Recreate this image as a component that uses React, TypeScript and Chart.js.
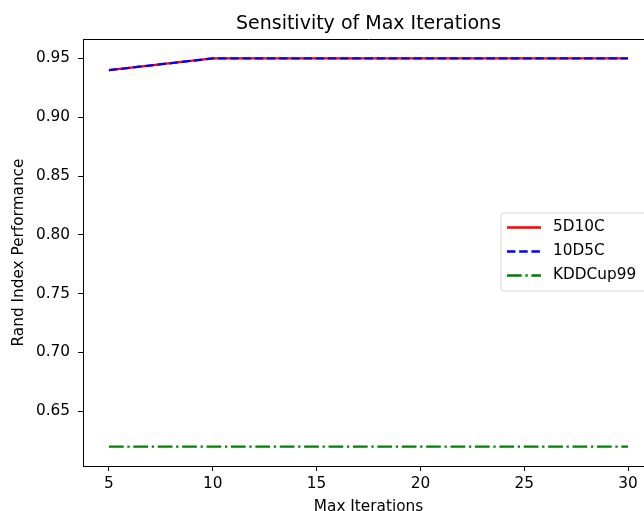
import React, { useEffect, useRef } from "react";
import { Chart, registerables } from "chart.js";

Chart.register(...registerables);

const iterations = [5, 10, 15, 20, 25, 30];
const series5D10C = [0.94, 0.95, 0.95, 0.95, 0.95, 0.95];
const series10D5C = [0.94, 0.95, 0.95, 0.95, 0.95, 0.95];
const seriesKDDCup99 = [0.62, 0.62, 0.62, 0.62, 0.62, 0.62];
const xTicks = [5, 10, 15, 20, 25, 30];
const yTicks = [0.65, 0.7, 0.75, 0.8, 0.85, 0.9, 0.95];

const FONT = "'DejaVu Sans', sans-serif";
const TICK_PX = 15.3;
const TITLE_PX = 19;
const LW = 2.3;

const toPoints = (ys: number[]) => iterations.map((x, i) => ({ x, y: ys[i] }));

const framePlugin = {
  id: "frameTitleLegend",
  afterDraw(chart: any) {
    const { ctx, chartArea } = chart;
    const { left, right, top, bottom } = chartArea;
    ctx.save();
    // top and right spines
    ctx.strokeStyle = "#000";
    ctx.lineWidth = 1;
    ctx.beginPath();
    ctx.moveTo(left, top + 0.5);
    ctx.lineTo(right, top + 0.5);
    ctx.moveTo(right - 0.5, top);
    ctx.lineTo(right - 0.5, bottom);
    ctx.stroke();

    // title
    ctx.fillStyle = "#000";
    ctx.font = `${TITLE_PX}px ${FONT}`;
    ctx.textAlign = "center";
    ctx.textBaseline = "alphabetic";
    ctx.fillText("Sensitivity of Max Iterations", (left + right) / 2, 29);

    // legend
    const boxL = right - 153;
    const boxR = right - 8;
    const boxT = top + 174;
    const boxB = top + 252;
    const r = 3;
    ctx.beginPath();
    ctx.moveTo(boxL + r, boxT);
    ctx.lineTo(boxR - r, boxT);
    ctx.arcTo(boxR, boxT, boxR, boxT + r, r);
    ctx.lineTo(boxR, boxB - r);
    ctx.arcTo(boxR, boxB, boxR - r, boxB, r);
    ctx.lineTo(boxL + r, boxB);
    ctx.arcTo(boxL, boxB, boxL, boxB - r, r);
    ctx.lineTo(boxL, boxT + r);
    ctx.arcTo(boxL, boxT, boxL + r, boxT, r);
    ctx.closePath();
    ctx.fillStyle = "rgba(255,255,255,0.8)";
    ctx.fill();
    ctx.strokeStyle = "rgba(204,204,204,0.8)";
    ctx.lineWidth = 1;
    ctx.stroke();

    const datasets = chart.data.datasets;
    datasets.forEach((ds: any, i: number) => {
      const y = boxT + 14.5 + i * 24;
      ctx.beginPath();
      ctx.strokeStyle = ds.borderColor;
      ctx.lineWidth = ds.borderWidth;
      ctx.setLineDash(ds.borderDash || []);
      ctx.moveTo(boxL + 6, y);
      ctx.lineTo(boxL + 40, y);
      ctx.stroke();
      ctx.setLineDash([]);
      ctx.fillStyle = "#000";
      ctx.font = `${TICK_PX}px ${FONT}`;
      ctx.textAlign = "left";
      ctx.textBaseline = "middle";
      ctx.fillText(ds.label, boxL + 52, y);
    });
    ctx.restore();
  },
};

export default function App() {
  const ref = useRef<HTMLCanvasElement | null>(null);

  useEffect(() => {
    if (!ref.current) return;
    const chart = new Chart(ref.current, {
      type: "line",
      data: {
        datasets: [
          {
            label: "5D10C",
            data: toPoints(series5D10C),
            borderColor: "#ff0000",
            borderWidth: LW,
            borderDash: [],
            pointRadius: 0,
            order: 1,
            tension: 0,
          },
          {
            label: "10D5C",
            data: toPoints(series10D5C),
            borderColor: "#0000ff",
            borderWidth: LW,
            borderDash: [8.5, 3.7],
            pointRadius: 0,
            order: 0,
            tension: 0,
          },
          {
            label: "KDDCup99",
            data: toPoints(seriesKDDCup99),
            borderColor: "#008000",
            borderWidth: LW,
            borderDash: [14.7, 3.7, 2.3, 3.7],
            pointRadius: 0,
            order: 2,
            tension: 0,
          },
        ],
      },
      options: {
        responsive: false,
        animation: false,
        events: [],
        layout: { padding: { left: 0, top: 39, right: 16, bottom: 0 } },
        plugins: {
          legend: { display: false },
          title: { display: false },
          tooltip: { enabled: false },
        },
        scales: {
          x: {
            type: "linear",
            min: 3.75,
            max: 31.25,
            afterBuildTicks: (s: any) => {
              s.ticks = xTicks.map((v) => ({ value: v }));
            },
            afterFit: (s: any) => {
              s.height = 59;
            },
            ticks: {
              font: { family: FONT, size: TICK_PX },
              color: "#000",
              padding: 4,
              maxRotation: 0,
              callback: (v: any) => String(v),
            },
            grid: {
              display: true,
              drawOnChartArea: false,
              drawTicks: true,
              tickLength: 5,
              color: "#000",
              lineWidth: 1,
            },
            border: { display: true, color: "#000", width: 1 },
            title: {
              display: true,
              text: "Max Iterations",
              font: { family: FONT, size: TICK_PX },
              color: "#000",
              padding: { top: 0, bottom: 9 },
            },
          },
          y: {
            type: "linear",
            min: 0.6035,
            max: 0.9665,
            afterBuildTicks: (s: any) => {
              s.ticks = yTicks.map((v) => ({ value: v }));
            },
            afterFit: (s: any) => {
              s.width = 83;
            },
            ticks: {
              font: { family: FONT, size: TICK_PX },
              color: "#000",
              padding: 8,
              callback: (v: any) => Number(v).toFixed(2),
            },
            grid: {
              display: true,
              drawOnChartArea: false,
              drawTicks: true,
              tickLength: 5,
              color: "#000",
              lineWidth: 1,
            },
            border: { display: true, color: "#000", width: 1 },
            title: {
              display: true,
              text: "Rand Index Performance",
              font: { family: FONT, size: TICK_PX },
              color: "#000",
              padding: { top: 10, bottom: 0 },
            },
          },
        },
      },
      plugins: [framePlugin],
    });
    return () => chart.destroy();
  }, []);

  return (
    <div
      style={{
        position: "fixed",
        left: 0,
        top: 0,
        width: 644,
        height: 511,
        overflow: "hidden",
        background: "#fff",
      }}
    >
      <canvas ref={ref} width={670} height={525} style={{ display: "block", width: 670, height: 525 }} />
    </div>
  );
}
